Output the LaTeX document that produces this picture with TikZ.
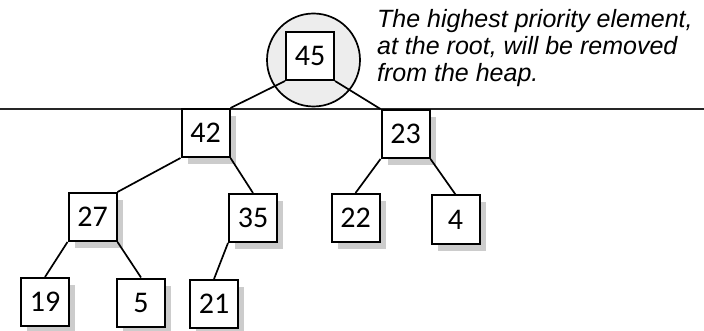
\documentclass[tikz,border=0pt]{standalone}
\usepackage{fontspec}
\newfontfamily\numfont{Carlito}
\newfontfamily\notefont{Liberation Sans}
\begin{document}
\begin{tikzpicture}[x=1pt,y=-1pt,
  keybox/.style={draw=black,line width=2pt,fill=white,minimum width=48pt,minimum height=48pt,
    inner sep=0pt,font=\numfont\fontsize{30}{30}\selectfont},
  shadowbox/.style={fill=black!20,minimum width=48pt,minimum height=48pt,inner sep=0pt},
  edge/.style={line width=1.7pt,draw=black},
  note/.style={anchor=base west,inner sep=0pt,font=\notefont\itshape\fontsize{25}{27}\selectfont}]
\useasboundingbox (0,0) rectangle (704,331);
% shadows
\foreach \px/\py [count=\i] in {310/56,205.5/133,405.5/134,92.5/217,253/218,355.5/218,455.5/219.5,45/302,141/302.5,214/304}{
  \node[shadowbox] (sh\i) at (\px+6,\py+7) {};
}
% highlight circle
\node[circle,fill=black!7,minimum size=93pt,inner sep=0pt] (ring) at (313.5,60) {};
% horizontal rule
\coordinate (hl) at (0,109.5);
\coordinate (hr) at (704,109.5);
\draw[line width=2pt,black!85] (hl) -- (hr);
% nodes
\node[keybox] (n45) at (310,56) {45};
\node[keybox] (n42) at (205.5,133) {42};
\node[keybox] (n23) at (405.5,134) {23};
\node[keybox] (n27) at (92.5,217) {27};
\node[keybox] (n35) at (253,218) {35};
\node[keybox] (n22) at (355.5,218) {22};
\node[keybox] (n4) at (455.5,219.5) {4};
\node[keybox] (n19) at (45,302) {19};
\node[keybox] (n5) at (141,302.5) {5};
\node[keybox] (n21) at (214,304) {21};
% edges
\draw[edge] (n45.south west) -- (n42.north east);
\draw[edge] (n45.south east) -- (n23.north west);
\draw[edge] (n42.south west) -- (n27.north east);
\draw[edge] (n42.south east) -- (n35.north);
\draw[edge] (n23.south west) -- (n22.north);
\draw[edge] (n23.south east) -- (n4.north);
\draw[edge] (n27.south west) -- (n19.north);
\draw[edge] (n27.south east) -- (n5.north);
\draw[edge] (n35.south west) -- (n21.north);
\draw[line width=1.7pt] (ring.center) circle[radius=46.5pt];
% note
\node[note] (t1) at (377,28) {The highest priority element,};
\node[note] (t2) at (377,55) {at the root, will be removed};
\node[note] (t3) at (377,82) {from the heap.};
\end{tikzpicture}
\end{document}
